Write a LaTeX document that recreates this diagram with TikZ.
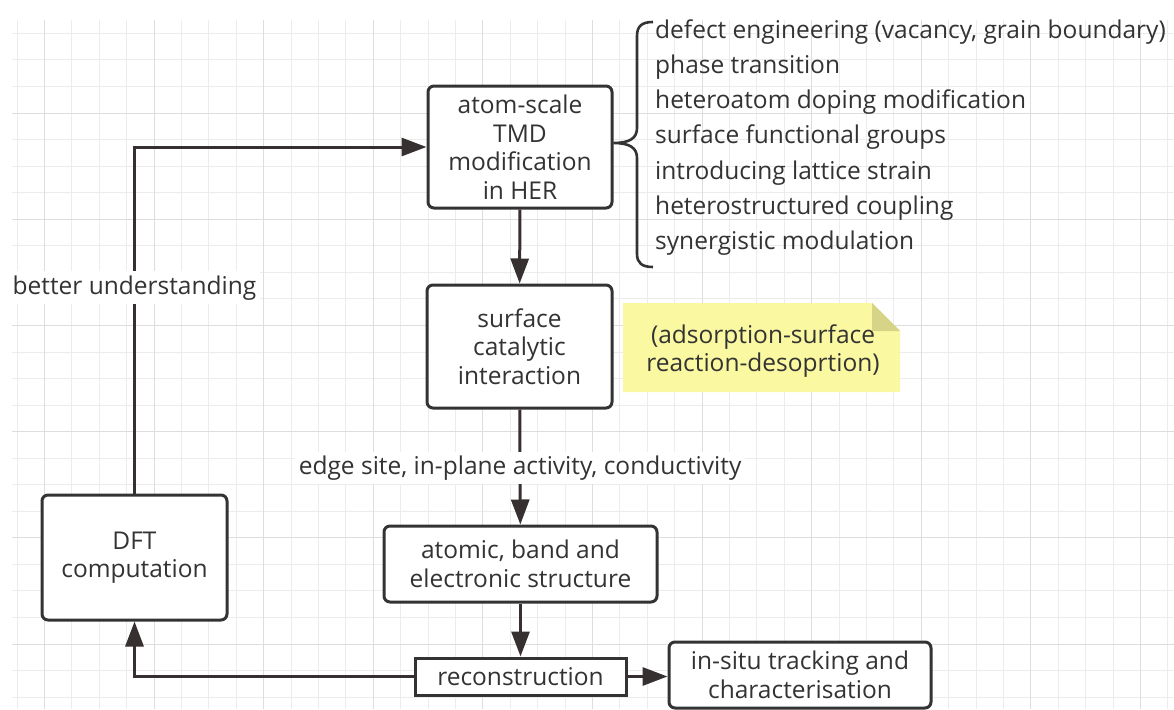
\documentclass[tikz,border=0pt]{standalone}
\usepackage{fontspec}
\setmainfont{Open Sans}
\usetikzlibrary{arrows.meta}
\definecolor{ink}{HTML}{333333}
\definecolor{edgecol}{HTML}{363030}
\definecolor{gridminor}{HTML}{ECECEC}
\definecolor{gridmajor}{HTML}{DDDDDD}
\definecolor{notefill}{RGB}{250,248,160}
\definecolor{notefold}{RGB}{214,212,135}
\tikzset{
  stepbox/.style={draw=ink, line width=3pt, rounded corners=6pt, fill=white, align=center,
    text=ink, font=\fontsize{24.5}{28.5}\selectfont, inner sep=0pt},
  plainbox/.style={stepbox, rounded corners=0pt},
  conn/.style={draw=edgecol, line width=3pt},
  arr/.style={conn, -{Triangle[length=25pt,width=18pt]}},
  lbl/.style={text=ink, font=\fontsize{24.5}{28.5}\selectfont, inner sep=0pt},
  listitem/.style={lbl, anchor=west, text height=17pt, text depth=5pt},
  gminor/.style={draw=gridminor, line width=1pt},
  gmajor/.style={draw=gridmajor, line width=1pt},
}
\begin{document}
\begin{tikzpicture}[x=1pt,y=-1pt]
\useasboundingbox (0,0) rectangle (1174,709);
\fill[white] (0,0) rectangle (1174,709);
% grid
\foreach \k in {0,...,42}{\pgfmathsetmacro\gx{17+27.4*\k}\draw[gminor] (\gx,20) -- (\gx,709);}
\foreach \k in {0,...,25}{\pgfmathsetmacro\gy{33.4+26.55*\k}\draw[gminor] (12,\gy) -- (1174,\gy);}
\foreach \k in {1,5,...,41}{\pgfmathsetmacro\gx{17+27.4*\k}\draw[gmajor] (\gx,20) -- (\gx,709);}
\foreach \k in {3,7,...,23}{\pgfmathsetmacro\gy{33.4+26.55*\k}\draw[gmajor] (12,\gy) -- (1174,\gy);}

% note
\fill[notefill] (623,303) -- (872,303) -- (900,331) -- (900,392) -- (623,392) -- cycle;
\fill[notefold] (872,303) -- (900,331) -- (872,331) -- cycle;
\node[lbl, align=center] (note) at (763,351) {(adsorption-surface\\reaction-desoprtion)};

% boxes
\node[stepbox, minimum width=184pt, minimum height=122pt] (atom) at (520,147)
  {atom-scale\\TMD\\modification\\in HER};
\node[stepbox, minimum width=185pt, minimum height=123pt] (surface) at (519.5,346.5)
  {surface\\catalytic\\interaction};
\node[stepbox, minimum width=273pt, minimum height=76pt] (atomic) at (520.5,564)
  {atomic, band and\\electronic structure};
\node[plainbox, minimum width=211pt, minimum height=37pt] (recon) at (520.5,676.5)
  {reconstruction};
\node[stepbox, minimum width=262pt, minimum height=66pt] (insitu) at (800,675)
  {in-situ tracking and\\characterisation};
\node[stepbox, minimum width=185pt, minimum height=125pt] (dft) at (134.5,557.5)
  {DFT\\computation};

% brace and list
\draw[draw=ink, line width=2.6pt] (653,22) .. controls (642,22) and (637,26) .. (637,36)
  -- (637,128) .. controls (637,138) and (630,143) .. (atom.east |- 0,143)
  .. controls (630,143) and (637,148) .. (637,158)
  -- (637,254) .. controls (637,263) and (642,267) .. (653,267);
\node[listitem] (l1) at (655,32) {defect engineering (vacancy, grain boundary)};
\node[listitem] (l2) at (655,67.3) {phase transition};
\node[listitem] (l3) at (655,102.6) {heteroatom doping modification};
\node[listitem] (l4) at (655,137.9) {surface functional groups};
\node[listitem] (l5) at (655,173.2) {introducing lattice strain};
\node[listitem] (l6) at (655,208.5) {heterostructured coupling};
\node[listitem] (l7) at (655,243.8) {synergistic modulation};

% connectors
\draw[arr] (atom) -- (surface);
\draw[arr] (surface) -- (atomic)
  node[lbl, fill=white, inner sep=4pt, pos=0.51] (elabel) {edge site, in-plane activity, conductivity};
\draw[arr] (atomic) -- (recon);
\draw[arr] (recon.east) -- (recon.east -| insitu.west);
\draw[arr] (recon.west) -| (dft.south);
\draw[arr] (dft.north) |- (atom.west)
  node[lbl, fill=white, inner sep=4pt, pos=0.297] (ulabel) {better understanding};
\end{tikzpicture}
\end{document}
